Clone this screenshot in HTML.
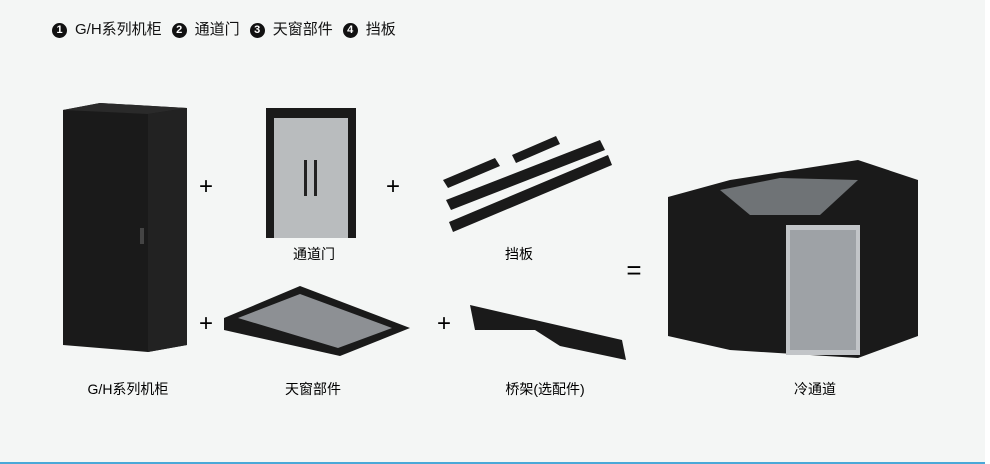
<!DOCTYPE html>
<html><head><meta charset="utf-8"><style>
html,body{margin:0;padding:0}
body{width:990px;height:464px;position:relative;overflow:hidden;background:#f4f6f5;font-family:"Liberation Sans","Noto Sans CJK SC",sans-serif;color:#111}
.t{position:absolute;font-size:15px;white-space:nowrap}
.c{display:inline-block;width:15px;height:15px;border-radius:50%;background:#111;color:#fff;font-size:11px;line-height:15px;text-align:center;font-weight:bold;vertical-align:1px;margin-right:8px}
.g{display:inline-block;width:10px}
</style></head><body>
<div class="t" style="left:52px;top:18px"><span class="c">1</span>G/H系列机柜<span class="g"></span><span class="c">2</span>通道门<span class="g"></span><span class="c">3</span>天窗部件<span class="g"></span><span class="c">4</span>挡板</div>
<svg width="990" height="464" style="position:absolute;left:0;top:0">
<rect x="985" y="0" width="5" height="464" fill="#fff"/>
<rect x="0" y="462" width="985" height="2" fill="#4aa8d8"/>
<polygon points="63,110 100,103 187,108 187,345 148,352 63,345" fill="#1a1a1a"/>
<polygon points="63,110 100,103 187,108 148,114" fill="#2a2a2a"/>
<polygon points="148,114 187,108 187,345 148,352" fill="#222"/>
<rect x="140" y="228" width="4" height="16" fill="#444"/>
<rect x="266" y="108" width="90" height="130" fill="#1a1a1a"/>
<rect x="274" y="118" width="74" height="120" fill="#b9bcbe"/>
<rect x="304" y="160" width="3" height="36" fill="#222"/><rect x="314" y="160" width="3" height="36" fill="#222"/>
<polygon points="443,180 495,158 500,166 448,188" fill="#1a1a1a"/>
<polygon points="512,155 556,136 560,144 516,163" fill="#1a1a1a"/>
<polygon points="446,200 600,140 605,150 451,210" fill="#1a1a1a"/>
<polygon points="449,222 608,155 612,165 453,232" fill="#1a1a1a"/>
<polygon points="224,318 300,286 410,328 340,356 224,330" fill="#1a1a1a"/>
<polygon points="238,318 300,294 392,328 338,348" fill="#8d9094"/>
<polygon points="470,305 622,340 626,360 560,346 535,330 475,330" fill="#1a1a1a"/>
<polygon points="668,197 730,180 858,160 918,180 918,336 858,358 730,350 668,336" fill="#1a1a1a"/>
<polygon points="720,190 780,178 858,180 820,215 750,215" fill="#6f7376"/>
<rect x="786" y="225" width="74" height="130" fill="#c2c5c8"/>
<rect x="790" y="230" width="66" height="120" fill="#9ea2a6"/>
<text x="206" y="194" font-size="24" text-anchor="middle">+</text>
<text x="393" y="194" font-size="24" text-anchor="middle">+</text>
<text x="206" y="331" font-size="24" text-anchor="middle">+</text>
<text x="444" y="331" font-size="24" text-anchor="middle">+</text>
<text x="634" y="279" font-size="26" text-anchor="middle">=</text>
<g font-size="14" text-anchor="middle" font-family="Liberation Sans,Noto Sans CJK SC,sans-serif">
<text x="128" y="394">G/H系列机柜</text>
<text x="314" y="259">通道门</text>
<text x="519" y="259">挡板</text>
<text x="313" y="394">天窗部件</text>
<text x="545" y="394">桥架(选配件)</text>
<text x="815" y="394">冷通道</text>
</g>
</svg>
</body></html>
